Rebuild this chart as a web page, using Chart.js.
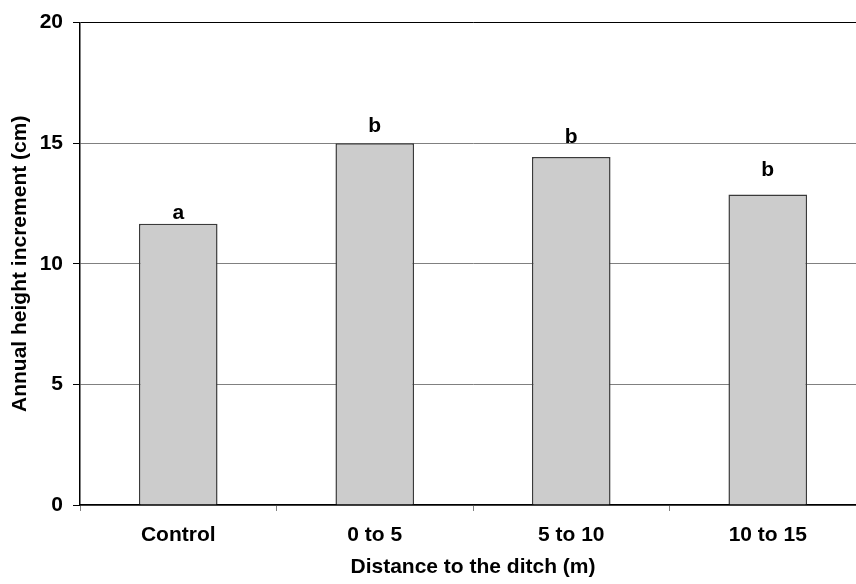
<!DOCTYPE html>
<html><head><meta charset="utf-8">
<script src="https://cdn.jsdelivr.net/npm/chart.js@4"></script>
<style>
html,body{margin:0;padding:0;background:#fff;overflow:hidden}
#wrap{width:856px;height:584px;overflow:hidden;position:relative}
canvas{display:block}
</style>
</head><body>
<div id="wrap"><canvas id="c" width="870" height="584" style="width:870px;height:584px"></canvas></div>
<script>
const categories = ['Control', '0 to 5', '5 to 10', '10 to 15'];
const heightIncrement = [11.66, 15.0, 14.43, 12.87];
const letters = ['a', 'b', 'b', 'b'];
const letterHeights = [11.87, 15.48, 14.99, 13.65];
const yMin = 0, yMax = 20, yStep = 5;

const FONT = "'Liberation Sans', Arial, Helvetica, sans-serif";

const letterPlugin = {
  id: 'letters',
  afterDatasetsDraw(chart) {
    const ctx = chart.ctx;
    const meta = chart.getDatasetMeta(0);
    const ys = chart.scales.y;
    ctx.save();
    ctx.font = 'bold 21px ' + FONT;
    ctx.fillStyle = '#000';
    ctx.textAlign = 'center';
    ctx.textBaseline = 'alphabetic';
    meta.data.forEach((bar, i) => {
      ctx.fillText(letters[i], bar.x, ys.getPixelForValue(letterHeights[i]));
    });
    ctx.restore();
  }
};

new Chart(document.getElementById('c'), {
  type: 'bar',
  data: {
    labels: categories,
    datasets: [{
      data: heightIncrement,
      backgroundColor: '#cccccc',
      borderColor: '#3a3a3a',
      borderWidth: 1.5,
      barPercentage: 0.4,
      categoryPercentage: 1.0
    }]
  },
  options: {
    responsive: false,
    animation: false,
    layout: { padding: { top: 18, right: 4, left: 0, bottom: 0 } },
    plugins: { legend: { display: false }, tooltip: { enabled: false } },
    scales: {
      x: {
        afterFit(scale) { scale.height = 79; },
        grid: {
          display: true,
          offset: true,
          drawOnChartArea: false,
          drawTicks: true,
          tickLength: 6,
          tickColor: '#808080'
        },
        border: { display: true, color: '#000', width: 1.5 },
        ticks: { color: '#000', font: { family: FONT, size: 21, weight: 'bold' }, padding: 12, maxRotation: 0 },
        title: {
          display: true,
          text: 'Distance to the ditch (m)',
          color: '#000',
          font: { family: FONT, size: 21, weight: 'bold' },
          padding: { top: 0, bottom: 4 }
        }
      },
      y: {
        min: yMin, max: yMax,
        afterFit(scale) { scale.width = 80; },
        grid: {
          color: (c) => (c.tick && c.tick.value === yMax) ? '#000' : '#808080',
          lineWidth: 1,
          drawTicks: true,
          tickLength: 7,
          tickColor: '#000'
        },
        border: { display: true, color: '#000', width: 1.5 },
        ticks: { stepSize: yStep, color: '#000', font: { family: FONT, size: 21, weight: 'bold' }, padding: 10 },
        title: {
          display: true,
          text: 'Annual height increment (cm)',
          color: '#000',
          font: { family: FONT, size: 21, weight: 'bold' },
          padding: { top: 8, bottom: 0 }
        }
      }
    }
  },
  plugins: [letterPlugin]
});
</script>
</body></html>
